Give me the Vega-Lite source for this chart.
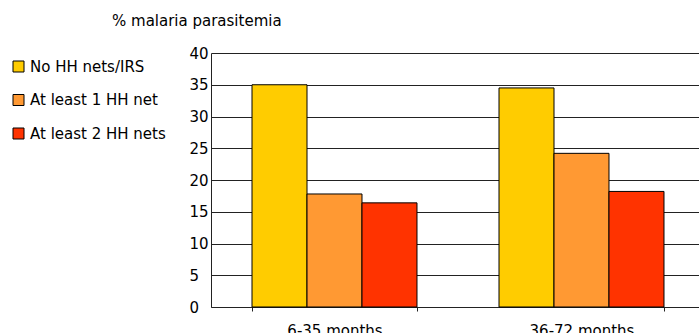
{
  "$schema": "https://vega.github.io/schema/vega-lite/v6.json",
  "autosize": {"type": "none"},
  "width": 488,
  "height": 254,
  "padding": {"left": 211, "top": 53, "right": 0, "bottom": 26},
  "background": "white",
  "title": {
    "text": "% malaria parasitemia",
    "anchor": "start",
    "frame": "group",
    "dx": -99,
    "offset": 17,
    "font": "DejaVu Sans",
    "fontSize": 15,
    "fontWeight": "normal",
    "color": "#000"
  },
  "config": {
    "view": {"stroke": null},
    "font": "DejaVu Sans"
  },
  "data": {
    "values": [
      {"age": "6-35 months", "group": "No HH nets/IRS", "pct": 35.0},
      {"age": "6-35 months", "group": "At least 1 HH net", "pct": 17.8},
      {"age": "6-35 months", "group": "At least 2 HH nets", "pct": 16.4},
      {"age": "36-72 months", "group": "No HH nets/IRS", "pct": 34.5},
      {"age": "36-72 months", "group": "At least 1 HH net", "pct": 24.2},
      {"age": "36-72 months", "group": "At least 2 HH nets", "pct": 18.2}
    ]
  },
  "mark": {"type": "bar", "stroke": "#000", "strokeWidth": 1},
  "encoding": {
    "x": {
      "field": "age",
      "type": "nominal",
      "sort": ["6-35 months", "36-72 months"],
      "scale": {"range": [0, 494], "paddingInner": 0.332, "paddingOuter": 0.166},
      "axis": {
        "title": null,
        "labelAngle": 0,
        "labelFont": "DejaVu Sans",
        "labelFontSize": 15,
        "labelColor": "#000",
        "labelPadding": 12,
        "domainColor": "#222",
        "tickColor": "#222",
        "tickBand": "extent",
        "tickSize": 4,
        "grid": false
      }
    },
    "xOffset": {
      "field": "group",
      "type": "nominal",
      "sort": ["No HH nets/IRS", "At least 1 HH net", "At least 2 HH nets"],
      "scale": {"paddingInner": 0, "paddingOuter": 0}
    },
    "y": {
      "field": "pct",
      "type": "quantitative",
      "scale": {"domain": [0, 40]},
      "axis": {
        "title": null,
        "values": [0, 5, 10, 15, 20, 25, 30, 35, 40],
        "labelFont": "DejaVu Sans",
        "labelFontSize": 15,
        "labelColor": "#000",
        "labelAlign": "left",
        "labelPadding": 22,
        "tickSize": 0,
        "domainColor": "#222",
        "gridColor": "#222",
        "gridWidth": 1,
        "gridOpacity": 1
      }
    },
    "color": {
      "field": "group",
      "type": "nominal",
      "sort": ["No HH nets/IRS", "At least 1 HH net", "At least 2 HH nets"],
      "scale": {
        "domain": ["No HH nets/IRS", "At least 1 HH net", "At least 2 HH nets"],
        "range": ["#FFCC00", "#FF9933", "#FF3300"]
      },
      "legend": {
        "title": null,
        "orient": "none",
        "legendX": -200,
        "legendY": 6,
        "symbolType": "square",
        "symbolSize": 121,
        "symbolStrokeColor": "#000",
        "symbolStrokeWidth": 1,
        "symbolOpacity": 1,
        "labelFont": "DejaVu Sans",
        "labelFontSize": 15,
        "labelColor": "#000",
        "labelOffset": 4,
        "rowPadding": 17.5
      }
    }
  }
}
